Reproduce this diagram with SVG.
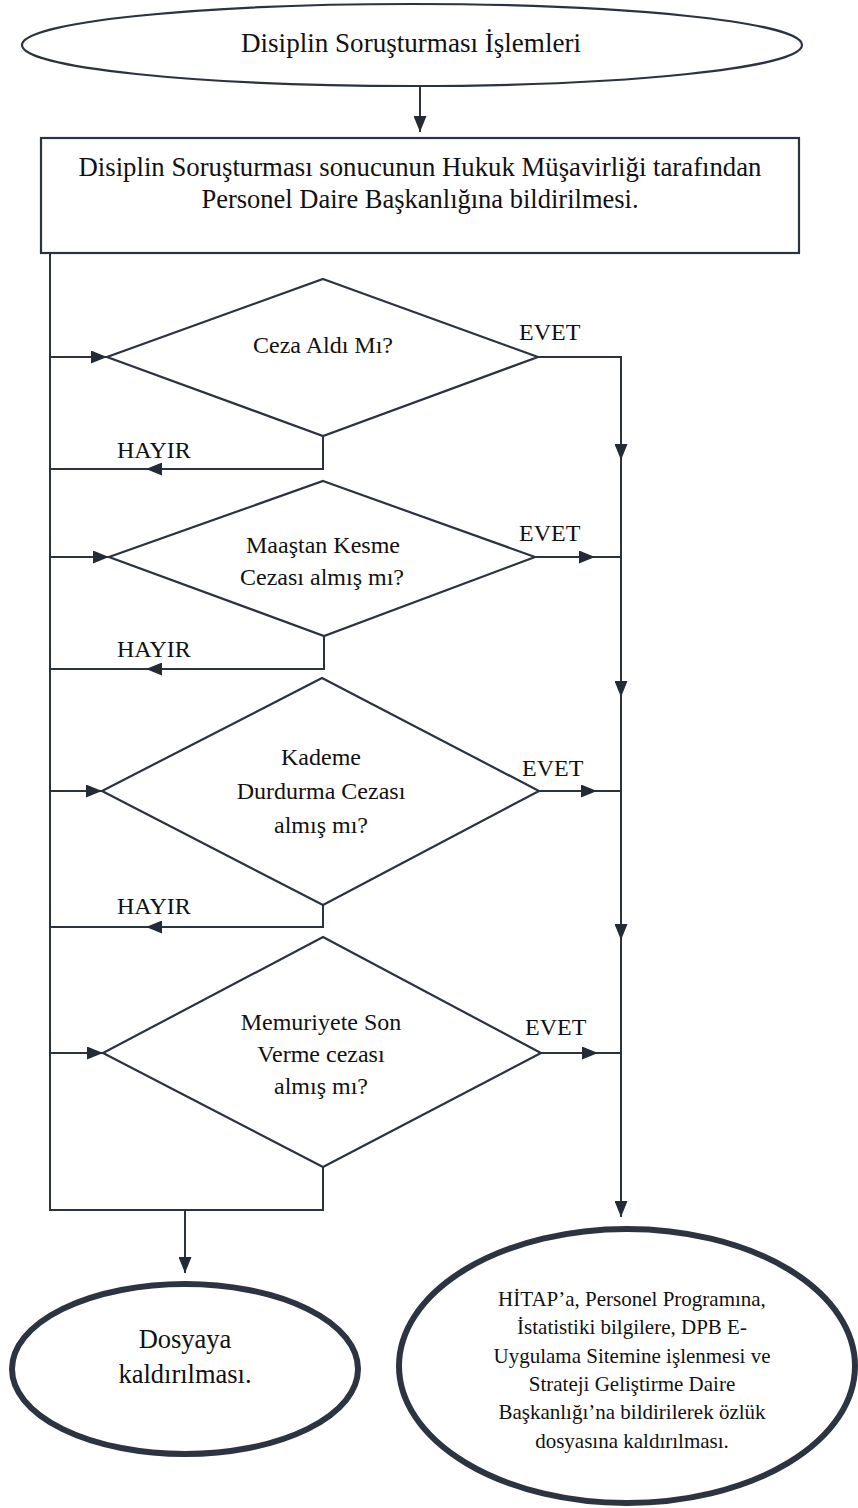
<svg xmlns="http://www.w3.org/2000/svg" width="858" height="1508" viewBox="0 0 858 1508" font-family="'Liberation Serif', 'DejaVu Serif', serif">
<style>
  text { font-family: 'Liberation Serif', 'DejaVu Serif', serif; fill: #111; }
  .c { text-anchor: middle; }
  .shape { fill: #fff; stroke: #2b3340; stroke-width: 2.2; }
  .thick { fill: #fff; stroke: #2b3440; stroke-width: 6; }
  .conn { fill: none; stroke: #2b3340; stroke-width: 2; }
</style>
<defs>
  <marker id="ah" markerUnits="userSpaceOnUse" markerWidth="17" markerHeight="13" refX="16" refY="6.5" orient="auto">
    <path d="M0,0 L16,6.5 L0,13 z" fill="#222b36"/>
  </marker>
</defs>
<rect width="858" height="1508" fill="#fff"/>

<g id="connectors">
  <path class="conn" d="M420,87 L420,132" marker-end="url(#ah)"/>
  <path class="conn" d="M50,253 L50,1210 L323,1210 L323,1167"/>
  <path class="conn" d="M185,1210 L185,1273" marker-end="url(#ah)"/>
  <path class="conn" d="M50,357 L107,357" marker-end="url(#ah)"/>
  <path class="conn" d="M50,557 L109,557" marker-end="url(#ah)"/>
  <path class="conn" d="M50,791 L102,791" marker-end="url(#ah)"/>
  <path class="conn" d="M50,1053 L103,1053" marker-end="url(#ah)"/>
  <path class="conn" d="M323,436 L323,469 L146,469" marker-end="url(#ah)"/>
  <path class="conn" d="M146,469 L50,469"/>
  <path class="conn" d="M324,636 L324,669 L146,669" marker-end="url(#ah)"/>
  <path class="conn" d="M146,669 L50,669"/>
  <path class="conn" d="M323,905 L323,927 L146,927" marker-end="url(#ah)"/>
  <path class="conn" d="M146,927 L50,927"/>
  <path class="conn" d="M538,357 L621,357 L621,460" marker-end="url(#ah)"/>
  <path class="conn" d="M621,460 L621,697" marker-end="url(#ah)"/>
  <path class="conn" d="M621,697 L621,940" marker-end="url(#ah)"/>
  <path class="conn" d="M621,940 L621,1217" marker-end="url(#ah)"/>
  <path class="conn" d="M535,557 L595,557" marker-end="url(#ah)"/>
  <path class="conn" d="M595,557 L621,557"/>
  <path class="conn" d="M539,791 L597,791" marker-end="url(#ah)"/>
  <path class="conn" d="M597,791 L621,791"/>
  <path class="conn" d="M541,1053 L598,1053" marker-end="url(#ah)"/>
  <path class="conn" d="M598,1053 L621,1053"/>
</g>

<g id="labels" font-size="24">
  <text x="519" y="340">EVET</text>
  <text x="519" y="541">EVET</text>
  <text x="522" y="776">EVET</text>
  <text x="525" y="1035">EVET</text>
  <text x="117" y="458">HAYIR</text>
  <text x="117" y="657">HAYIR</text>
  <text x="117" y="914">HAYIR</text>
</g>

<g id="start">
  <ellipse class="shape" cx="412" cy="45" rx="390" ry="41"/>
  <text class="c" x="411" y="52" font-size="27" textLength="340" lengthAdjust="spacingAndGlyphs">Disiplin Soruşturması İşlemleri</text>
</g>

<g id="notify">
  <rect class="shape" x="41" y="138" width="758" height="115"/>
  <text class="c" x="420" y="176" font-size="26.5" textLength="683" lengthAdjust="spacingAndGlyphs">Disiplin Soruşturması sonucunun Hukuk Müşavirliği tarafından</text>
  <text class="c" x="420" y="208" font-size="26.5">Personel Daire Başkanlığına bildirilmesi.</text>
</g>

<g id="d1" font-size="24">
  <polygon class="shape" points="323,279 538,357 323,436 107,357"/>
  <text class="c" x="323" y="353">Ceza Aldı Mı?</text>
</g>

<g id="d2" font-size="24">
  <polygon class="shape" points="323,481 535,557 324,636 109,557"/>
  <text class="c" x="323" y="553">Maaştan Kesme</text>
  <text class="c" x="322" y="585">Cezası almış mı?</text>
</g>

<g id="d3" font-size="24">
  <polygon class="shape" points="322,678 539,791 323,905 102,791"/>
  <text class="c" x="321" y="765">Kademe</text>
  <text class="c" x="321" y="799">Durdurma Cezası</text>
  <text class="c" x="321" y="833">almış mı?</text>
</g>

<g id="d4" font-size="24">
  <polygon class="shape" points="323,937 541,1053 323,1167 103,1053"/>
  <text class="c" x="321" y="1030">Memuriyete Son</text>
  <text class="c" x="321" y="1062">Verme cezası</text>
  <text class="c" x="321" y="1094">almış mı?</text>
</g>

<g id="end-file" font-size="26.5">
  <ellipse class="thick" cx="185" cy="1369" rx="173" ry="85"/>
  <text class="c" x="185" y="1348">Dosyaya</text>
  <text class="c" x="185" y="1383">kaldırılması.</text>
</g>

<g id="end-record" font-size="21">
  <ellipse class="thick" cx="627" cy="1366" rx="228" ry="137"/>
  <text class="c" x="632" y="1306">HİTAP’a, Personel Programına,</text>
  <text class="c" x="632" y="1334">İstatistiki bilgilere, DPB E-</text>
  <text class="c" x="632" y="1363">Uygulama Sitemine işlenmesi ve</text>
  <text class="c" x="632" y="1391">Strateji Geliştirme Daire</text>
  <text class="c" x="632" y="1419">Başkanlığı’na bildirilerek özlük</text>
  <text class="c" x="632" y="1448">dosyasına kaldırılması.</text>
</g>
</svg>
